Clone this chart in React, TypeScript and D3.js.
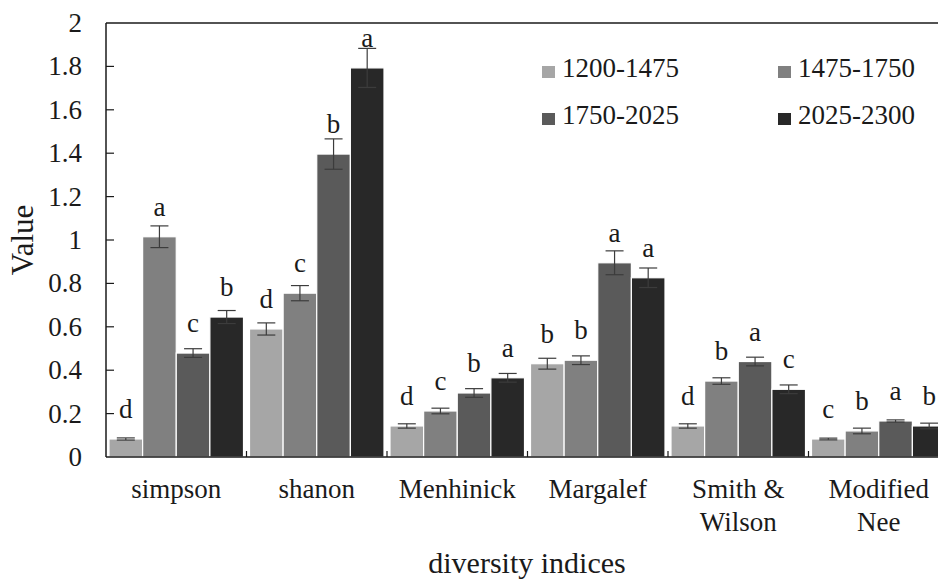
import React from "react";
import * as d3 from "d3";

// Categories along the x axis (multi-line labels split on "\n")
const categories = ["simpson", "shanon", "Menhinick", "Margalef", "Smith &\nWilson", "Modified\nNee"];

// Period series
const seriesNames = ["1200-1475", "1475-1750", "1750-2025", "2025-2300"];
const seriesColors = ["#a6a6a6", "#808080", "#5a5a5a", "#282828"];

// Mean values per series (one entry per category)
const values1200 = [0.083, 0.59, 0.143, 0.43, 0.143, 0.083];
const values1475 = [1.015, 0.755, 0.212, 0.446, 0.35, 0.12];
const values1750 = [0.479, 1.396, 0.295, 0.895, 0.44, 0.166];
const values2025 = [0.645, 1.793, 0.365, 0.826, 0.312, 0.143];

// Standard errors per series
const errors1200 = [0.005, 0.028, 0.01, 0.025, 0.01, 0.004];
const errors1475 = [0.05, 0.035, 0.013, 0.02, 0.015, 0.013];
const errors1750 = [0.02, 0.07, 0.02, 0.055, 0.02, 0.005];
const errors2025 = [0.03, 0.09, 0.02, 0.045, 0.02, 0.013];

// Significance letters per series
const letters1200 = ["d", "d", "d", "b", "d", "c"];
const letters1475 = ["a", "c", "c", "b", "b", "b"];
const letters1750 = ["c", "b", "b", "a", "a", "a"];
const letters2025 = ["b", "a", "a", "a", "c", "b"];

const yTicks = [0, 0.2, 0.4, 0.6, 0.8, 1, 1.2, 1.4, 1.6, 1.8, 2];

const allValues = [values1200, values1475, values1750, values2025];
const allErrors = [errors1200, errors1475, errors1750, errors2025];
const allLetters = [letters1200, letters1475, letters1750, letters2025];

const W = 938;
const H = 585;
const left = 106;
const top = 23;
const bottom = 457;
const right = 949;
const font = "Liberation Serif, DejaVu Serif, serif";
const ink = "#1a1a1a";
const txt = { fontFamily: font };

export default function App() {
  const y = d3.scaleLinear().domain([0, 2]).range([bottom, top]);
  const x0 = d3.scaleBand<string>().domain(categories).range([left, right]).paddingInner(0).paddingOuter(0);
  const x1 = d3
    .scaleBand<string>()
    .domain(seriesNames)
    .range([3, x0.bandwidth() - 3])
    .padding(0);

  const bars: React.ReactNode[] = [];
  const errs: React.ReactNode[] = [];
  const labels: React.ReactNode[] = [];

  categories.forEach((cat, ci) => {
    seriesNames.forEach((s, si) => {
      const v = allValues[si][ci];
      const e = allErrors[si][ci];
      const bx = (x0(cat) as number) + (x1(s) as number);
      const bw = x1.bandwidth();
      const cx = bx + bw / 2;
      bars.push(
        <rect
          key={`b-${ci}-${si}`}
          x={bx}
          y={y(v)}
          width={bw}
          height={bottom - y(v)}
          fill={seriesColors[si]}
          stroke="#ffffff"
          strokeWidth={1.2}
        />
      );
      const capW = 9;
      errs.push(
        <g key={`e-${ci}-${si}`} stroke="#3c3c3c" strokeWidth={1.2}>
          <line x1={cx} x2={cx} y1={y(v + e)} y2={y(v - e)} />
          <line x1={cx - capW} x2={cx + capW} y1={y(v + e)} y2={y(v + e)} />
          <line x1={cx - capW} x2={cx + capW} y1={y(v - e)} y2={y(v - e)} />
        </g>
      );
      labels.push(
        <text
          key={`l-${ci}-${si}`}
          x={cx}
          y={y(v) - 21}
          textAnchor="middle"
          fontSize={27}
          style={txt}
          fill={ink}
        >
          {allLetters[si][ci]}
        </text>
      );
    });
  });

  const legendPos = [
    { x: 542, y: 72 },
    { x: 778, y: 72 },
    { x: 542, y: 119 },
    { x: 778, y: 119 },
  ];

  return (
    <svg
      width={W}
      height={H}
      style={{ position: "fixed", left: 0, top: 0, background: "#ffffff", fontFamily: font }}
    >
      <rect x={0} y={0} width={W} height={H} fill="#ffffff" />
      {bars}
      {errs}
      {labels}

      {/* frame: top border and axes */}
      <line x1={left} x2={right} y1={top} y2={top} stroke="#1a1a1a" strokeWidth={1.5} />
      <line x1={right} x2={right} y1={top} y2={bottom} stroke="#1a1a1a" strokeWidth={1.5} />
      <line x1={left} x2={left} y1={top} y2={bottom} stroke="#1a1a1a" strokeWidth={1.5} />
      <line x1={left} x2={right} y1={bottom} y2={bottom} stroke="#1a1a1a" strokeWidth={1.5} />

      {/* y ticks and labels */}
      {yTicks.map((t) => (
        <g key={`yt-${t}`}>
          {t > 0 && t < 2 && (
            <line x1={left} x2={left + 8} y1={y(t)} y2={y(t)} stroke="#1a1a1a" strokeWidth={1.2} />
          )}
          <text x={82} y={y(t) + 9} textAnchor="end" fontSize={27} fill={ink} style={txt}>
            {d3.format("")(t)}
          </text>
        </g>
      ))}

      {/* x ticks between categories */}
      {categories.slice(1).map((cat) => (
        <line
          key={`xt-${cat}`}
          x1={x0(cat) as number}
          x2={x0(cat) as number}
          y1={bottom}
          y2={bottom - 6}
          stroke="#1a1a1a"
          strokeWidth={1.2}
        />
      ))}

      {/* category labels */}
      {categories.map((cat) => {
        const cx = (x0(cat) as number) + x0.bandwidth() / 2;
        return (
          <text key={`cl-${cat}`} x={cx} y={498} textAnchor="middle" fontSize={27} fill={ink} style={txt}>
            {cat.split("\n").map((line, i) => (
              <tspan key={i} x={cx} dy={i === 0 ? 0 : 33}>
                {line}
              </tspan>
            ))}
          </text>
        );
      })}

      {/* axis titles */}
      <text x={527} y={573} textAnchor="middle" fontSize={30} fill={ink} style={txt}>
        diversity indices
      </text>
      <text
        transform={`translate(33, ${(top + bottom) / 2}) rotate(-90)`}
        textAnchor="middle"
        fontSize={31}
        fill={ink}
        style={txt}
      >
        Value
      </text>

      {/* legend */}
      {seriesNames.map((s, i) => (
        <g key={`lg-${s}`}>
          <rect x={legendPos[i].x} y={legendPos[i].y - 6} width={13} height={12} fill={seriesColors[i]} />
          <text x={legendPos[i].x + 20} y={legendPos[i].y + 5} fontSize={27} fill={ink} style={txt}>
            {s}
          </text>
        </g>
      ))}
    </svg>
  );
}
